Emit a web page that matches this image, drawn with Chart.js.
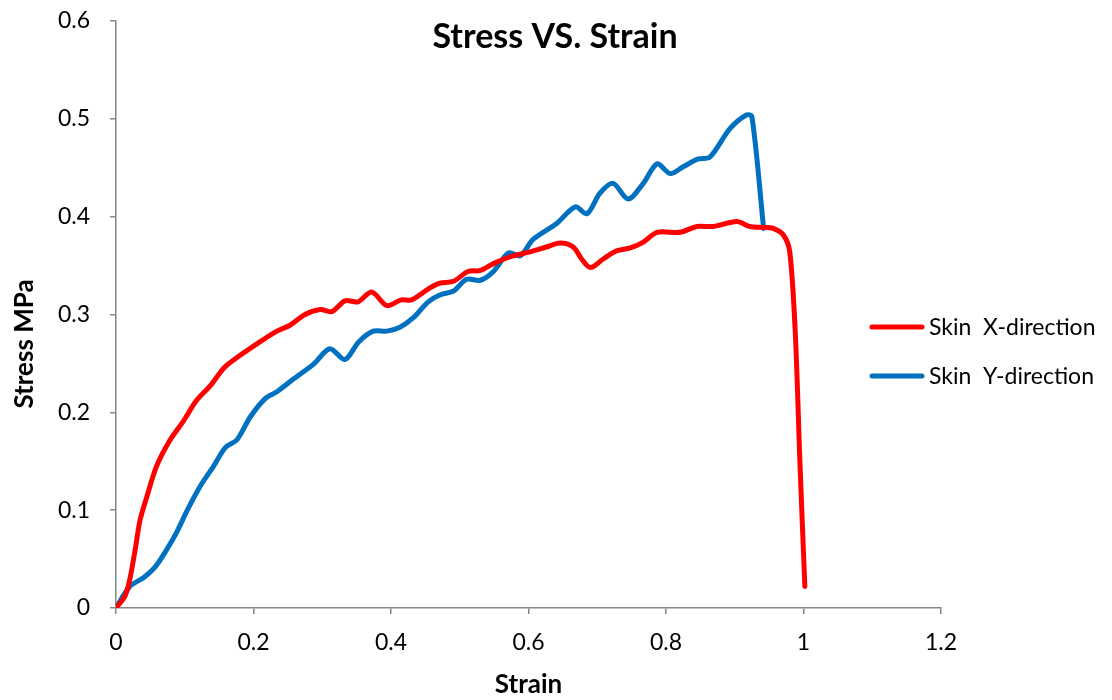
<!DOCTYPE html>
<html>
<head>
<meta charset="utf-8">
<script src="https://cdn.jsdelivr.net/npm/chart.js@4"></script>
<style>
html,body{margin:0;padding:0;background:#fff;}
#c{display:block;}
</style>
</head>
<body>
<canvas id="c" width="1112" height="700"></canvas>
<script>
const chartTitle = "Stress VS. Strain";
const xAxisTitle = "Strain";
const yAxisTitle = "Stress MPa";
const seriesNames = ["Skin  X-direction", "Skin  Y-direction"];
const seriesColors = ["#FF0000", "#0070C0"];

const xTickValues = [0, 0.2, 0.4, 0.6, 0.8, 1, 1.2];
const xTickLabels = ["0", "0.2", "0.4", "0.6", "0.8", "1", "1.2"];
const yTickValues = [0, 0.1, 0.2, 0.3, 0.4, 0.5, 0.6];
const yTickLabels = ["0", "0.1", "0.2", "0.3", "0.4", "0.5", "0.6"];

const strainX = [0,0.013,0.020,0.028,0.035,0.045,0.059,0.078,0.098,0.117,0.137,0.158,0.180,0.205,0.234,0.253,0.275,0.297,0.314,0.333,0.352,0.372,0.394,0.415,0.430,0.454,0.471,0.491,0.512,0.530,0.549,0.573,0.602,0.626,0.646,0.665,0.677,0.690,0.709,0.728,0.748,0.767,0.787,0.820,0.845,0.869,0.903,0.922,0.942,0.956,0.971,0.980,0.988,0.995,1.002];
const stressX = [0,0.012,0.029,0.060,0.090,0.114,0.145,0.171,0.191,0.212,0.227,0.246,0.258,0.270,0.283,0.289,0.300,0.305,0.303,0.314,0.313,0.323,0.309,0.315,0.315,0.326,0.332,0.334,0.344,0.345,0.352,0.359,0.364,0.369,0.373,0.369,0.357,0.348,0.357,0.365,0.368,0.374,0.384,0.384,0.390,0.390,0.395,0.390,0.389,0.388,0.381,0.364,0.282,0.145,0.022];

const strainY = [0,0.020,0.040,0.057,0.074,0.088,0.103,0.122,0.142,0.159,0.176,0.195,0.217,0.234,0.258,0.287,0.311,0.333,0.353,0.374,0.394,0.413,0.433,0.454,0.471,0.491,0.510,0.530,0.549,0.571,0.588,0.607,0.641,0.668,0.685,0.704,0.723,0.745,0.767,0.787,0.806,0.825,0.847,0.864,0.893,0.917,0.925,0.942];
const stressY = [0,0.022,0.031,0.042,0.060,0.077,0.099,0.124,0.145,0.164,0.172,0.195,0.214,0.221,0.234,0.249,0.265,0.254,0.272,0.283,0.283,0.287,0.297,0.313,0.320,0.324,0.336,0.335,0.344,0.363,0.360,0.377,0.393,0.410,0.403,0.424,0.434,0.418,0.434,0.454,0.444,0.451,0.459,0.461,0.490,0.504,0.502,0.388];

const FONT = "Lato, 'Open Sans', 'DejaVu Sans', sans-serif";
const axisGrey = "#868686";

function pts(xs, ys){ return xs.map((x,i)=>({x:x, y:ys[i]})); }

const overlayPlugin = {
  id: 'overlay',
  afterDraw(chart){
    const ctx = chart.ctx;
    ctx.save();
    ctx.fillStyle = "#000";
    ctx.font = "bold 34px " + FONT;
    ctx.textAlign = "center";
    ctx.textBaseline = "alphabetic";
    ctx.fillText(chartTitle, 555, 48);
    ctx.save();
    ctx.translate(33, 344);
    ctx.rotate(-Math.PI/2);
    ctx.font = "bold 26px " + FONT;
    ctx.textAlign = "center";
    ctx.textBaseline = "alphabetic";
    ctx.fillText(yAxisTitle, 0, 0);
    ctx.restore();
    const legendY = [327, 376];
    ctx.font = "23px " + FONT;
    ctx.textAlign = "left";
    ctx.textBaseline = "middle";
    chart.data.datasets.forEach((ds, i) => {
      ctx.strokeStyle = ds.borderColor;
      ctx.lineWidth = 5;
      ctx.lineCap = "round";
      ctx.beginPath();
      ctx.moveTo(872, legendY[i]);
      ctx.lineTo(922, legendY[i]);
      ctx.stroke();
      ctx.fillStyle = "#000";
      ctx.fillText(ds.label, 929, legendY[i] + 1);
    });
    ctx.restore();
  }
};

new Chart(document.getElementById('c'), {
  type: 'line',
  data: {
    datasets: [
      { label: seriesNames[0], data: pts(strainX, stressX), borderColor: seriesColors[0], backgroundColor: seriesColors[0],
        borderWidth: 5, pointRadius: 0, tension: 0.3, fill: false, borderCapStyle: 'round', borderJoinStyle: 'round' },
      { label: seriesNames[1], data: pts(strainY, stressY), borderColor: seriesColors[1], backgroundColor: seriesColors[1],
        borderWidth: 5, pointRadius: 0, tension: 0.3, fill: false, borderCapStyle: 'round', borderJoinStyle: 'round' }
    ]
  },
  options: {
    responsive: false,
    animation: false,
    layout: { padding: { top: 21, right: 171, bottom: 0, left: 0 } },
    plugins: { legend: { display: false }, title: { display: false }, tooltip: { enabled: false } },
    scales: {
      x: {
        type: 'linear', min: 0, max: 1.2,
        afterBuildTicks: (s) => { s.ticks = xTickValues.map(v => ({value: v})); },
        afterFit: (s) => { s.height = 92; s.paddingLeft = 0; s.paddingRight = 0; },
        ticks: { callback: (v, i) => xTickLabels[i], font: { family: FONT, size: 23 }, color: "#000", padding: 15, maxRotation: 0 },
        grid: { drawOnChartArea: false, drawTicks: true, tickLength: 6, color: axisGrey, lineWidth: 1.5 },
        border: { display: true, color: axisGrey, width: 1.5 },
        title: { display: true, text: xAxisTitle, font: { family: FONT, size: 26, weight: 'bold' }, color: "#000", padding: 0 }
      },
      y: {
        type: 'linear', min: 0, max: 0.6,
        afterBuildTicks: (s) => { s.ticks = yTickValues.map(v => ({value: v})); },
        afterFit: (s) => { s.width = 116; s.paddingTop = 0; s.paddingBottom = 0; },
        ticks: { callback: (v, i) => yTickLabels[i], font: { family: FONT, size: 23 }, color: "#000", padding: 20 },
        grid: { drawOnChartArea: false, drawTicks: true, tickLength: 6, color: axisGrey, lineWidth: 1.5 },
        border: { display: true, color: axisGrey, width: 1.5 }
      }
    }
  },
  plugins: [overlayPlugin]
});
</script>
</body>
</html>
